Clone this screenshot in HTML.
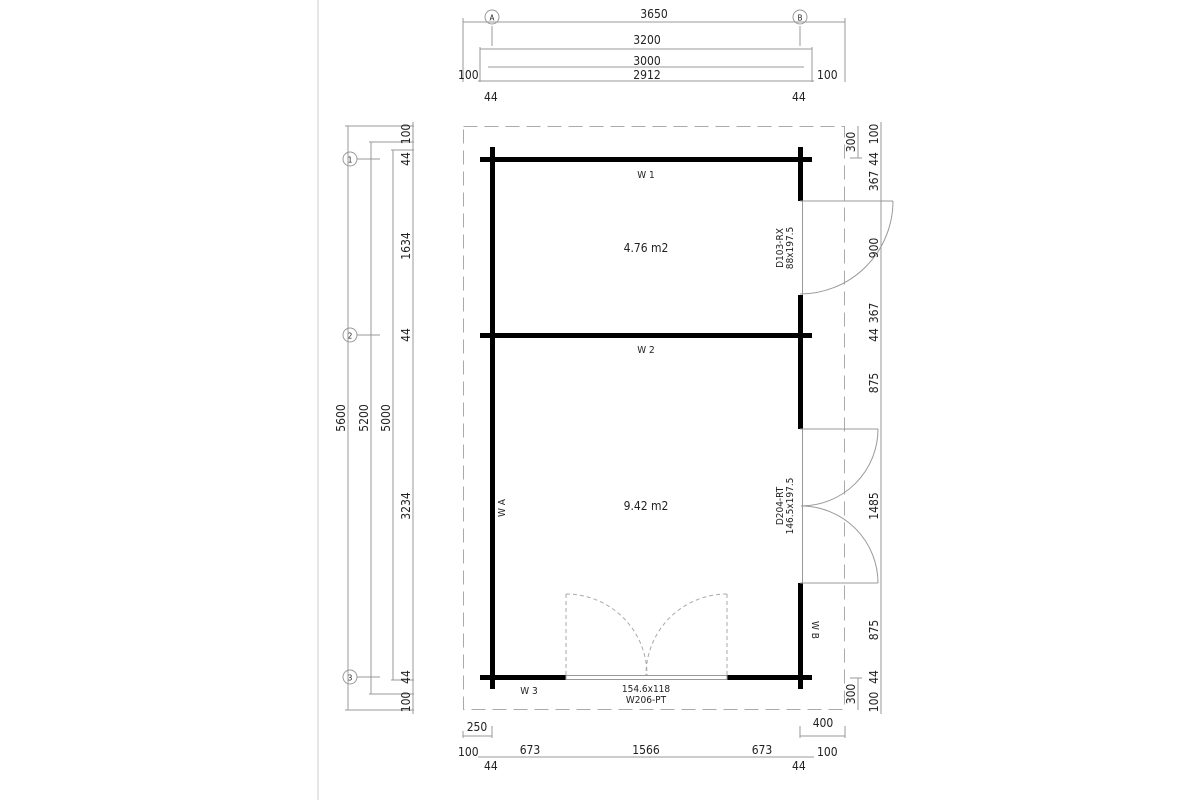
<!DOCTYPE html>
<html><head><meta charset="utf-8"><style>body{margin:0;background:#fff}svg{display:block}text{font-family:"DejaVu Sans Condensed","Liberation Sans",sans-serif;fill:#222}</style></head><body>
<svg width="1200" height="800" viewBox="0 0 1200 800" xmlns="http://www.w3.org/2000/svg">
<line x1="318" y1="0" x2="318" y2="800" stroke="#ccc" stroke-width="1"/>
<!-- dashed outline -->
<rect x="463.5" y="126.5" width="381" height="583" fill="none" stroke="#aaa" stroke-dasharray="14,7"/>
<!-- walls -->
<g fill="#000">
<rect x="480" y="157" width="332" height="5"/>
<rect x="480" y="333" width="332" height="5"/>
<rect x="490" y="147" width="5" height="542"/>
<rect x="798" y="147" width="5" height="54"/>
<rect x="798" y="295" width="5" height="134"/>
<rect x="798" y="583" width="5" height="106"/>
<rect x="480" y="675" width="86" height="5"/>
<rect x="727" y="675" width="85" height="5"/>
</g>
<g fill="none" stroke="#999" stroke-width="1">
<!-- window bottom -->
<rect x="566" y="675.5" width="161" height="4"/>
<line x1="802.5" y1="201" x2="802.5" y2="295"/>
<line x1="802.5" y1="429" x2="802.5" y2="583"/>
<!-- door1 -->
<line x1="800" y1="201" x2="893" y2="201"/>
<path d="M893 201 A93 93 0 0 1 800 294"/>
<!-- door2 -->
<line x1="800" y1="429" x2="878" y2="429"/>
<line x1="800" y1="583" x2="878" y2="583"/>
<path d="M878 429 A77 77 0 0 1 801 506"/>
<path d="M878 583 A77 77 0 0 0 801 506"/>
</g>
<g fill="none" stroke="#aaa" stroke-dasharray="4,3">
<line x1="566" y1="594" x2="566" y2="675"/>
<line x1="727" y1="594" x2="727" y2="675"/>
<path d="M566 594 A81 81 0 0 1 647 675"/>
<path d="M727 594 A81 81 0 0 0 646 675"/>
</g>
<!-- dims -->
<g stroke="#999" stroke-width="1" fill="none">
<line x1="463" y1="22" x2="845" y2="22"/><line x1="463" y1="18" x2="463" y2="82"/><line x1="845" y1="18" x2="845" y2="82"/>
<line x1="492" y1="26" x2="492" y2="46"/><line x1="800" y1="26" x2="800" y2="46"/>
<line x1="480" y1="49" x2="812" y2="49"/><line x1="480" y1="47" x2="480" y2="82"/><line x1="812" y1="47" x2="812" y2="82"/>
<line x1="488" y1="67" x2="804" y2="67"/>
<line x1="478" y1="81" x2="814" y2="81"/>
<circle cx="492" cy="17" r="7"/><circle cx="800" cy="17" r="7"/>
<line x1="348" y1="126" x2="348" y2="710"/><line x1="345" y1="126" x2="414" y2="126"/><line x1="345" y1="710" x2="414" y2="710"/>
<line x1="371" y1="142" x2="371" y2="694"/><line x1="369" y1="142" x2="414" y2="142"/><line x1="369" y1="694" x2="414" y2="694"/>
<line x1="393" y1="150" x2="393" y2="680"/><line x1="391" y1="150" x2="414" y2="150"/><line x1="391" y1="680" x2="414" y2="680"/>
<line x1="413" y1="122" x2="413" y2="714"/>
<line x1="357" y1="159" x2="380" y2="159"/><line x1="357" y1="335" x2="380" y2="335"/><line x1="357" y1="677" x2="380" y2="677"/>
<circle cx="350" cy="159" r="7"/><circle cx="350" cy="335" r="7"/><circle cx="350" cy="677" r="7"/>
<line x1="858" y1="126" x2="858" y2="158"/><line x1="850" y1="158" x2="862" y2="158"/>
<line x1="858" y1="678" x2="858" y2="710"/><line x1="850" y1="678" x2="862" y2="678"/>
<line x1="881" y1="122" x2="881" y2="714"/>
<line x1="463" y1="731" x2="463" y2="738"/><line x1="463" y1="736" x2="492" y2="736"/><line x1="492" y1="726" x2="492" y2="738"/>
<line x1="800" y1="726" x2="800" y2="738"/><line x1="800" y1="736" x2="845" y2="736"/><line x1="845" y1="726" x2="845" y2="738"/>
<line x1="478" y1="757" x2="814" y2="757"/>
</g>
<g font-size="11">
<text x="654" y="18" text-anchor="middle" font-size="12">3650</text>
<text x="647" y="44" text-anchor="middle" font-size="12">3200</text>
<text x="647" y="65" text-anchor="middle" font-size="12">3000</text>
<text x="647" y="79" text-anchor="middle" font-size="12">2912</text>
<text x="458" y="79" font-size="12">100</text><text x="817" y="79" font-size="12">100</text>
<text x="484" y="101" font-size="12">44</text><text x="792" y="101" font-size="12">44</text>
<text x="492" y="20.5" text-anchor="middle" font-size="8">A</text><text x="800" y="20.5" text-anchor="middle" font-size="8">B</text>
<text x="350" y="162.5" text-anchor="middle" font-size="8">1</text><text x="350" y="338.5" text-anchor="middle" font-size="8">2</text><text x="350" y="680.5" text-anchor="middle" font-size="8">3</text>
<text x="646" y="252" text-anchor="middle" font-size="12">4.76 m2</text>
<text x="646" y="510" text-anchor="middle" font-size="12">9.42 m2</text>
<text x="646" y="178" text-anchor="middle" font-size="10">W 1</text>
<text x="646" y="353" text-anchor="middle" font-size="10">W 2</text>
<text x="529" y="694" text-anchor="middle" font-size="10">W 3</text>
<text x="646" y="692" text-anchor="middle" font-size="10">154.6x118</text>
<text x="646" y="703" text-anchor="middle" font-size="10">W206-PT</text>
<text x="477" y="731" text-anchor="middle" font-size="12">250</text>
<text x="823" y="727" text-anchor="middle" font-size="12">400</text>
<text x="458" y="756" font-size="12">100</text><text x="817" y="756" font-size="12">100</text>
<text x="530" y="754" text-anchor="middle" font-size="12">673</text>
<text x="646" y="754" text-anchor="middle" font-size="12">1566</text>
<text x="762" y="754" text-anchor="middle" font-size="12">673</text>
<text x="484" y="770" font-size="12">44</text><text x="792" y="770" font-size="12">44</text>
</g>
<g font-size="12">
<text transform="translate(345,418) rotate(-90)" text-anchor="middle">5600</text>
<text transform="translate(368,418) rotate(-90)" text-anchor="middle">5200</text>
<text transform="translate(390,418) rotate(-90)" text-anchor="middle">5000</text>
<text transform="translate(410,246) rotate(-90)" text-anchor="middle">1634</text>
<text transform="translate(410,506) rotate(-90)" text-anchor="middle">3234</text>
<text transform="translate(410,134) rotate(-90)" text-anchor="middle">100</text>
<text transform="translate(410,159) rotate(-90)" text-anchor="middle">44</text>
<text transform="translate(410,335) rotate(-90)" text-anchor="middle">44</text>
<text transform="translate(410,677) rotate(-90)" text-anchor="middle">44</text>
<text transform="translate(410,702) rotate(-90)" text-anchor="middle">100</text>
<text transform="translate(855,142) rotate(-90)" text-anchor="middle">300</text>
<text transform="translate(855,694) rotate(-90)" text-anchor="middle">300</text>
<text transform="translate(878,134) rotate(-90)" text-anchor="middle">100</text>
<text transform="translate(878,159) rotate(-90)" text-anchor="middle">44</text>
<text transform="translate(878,181) rotate(-90)" text-anchor="middle">367</text>
<text transform="translate(878,248) rotate(-90)" text-anchor="middle">900</text>
<text transform="translate(878,313) rotate(-90)" text-anchor="middle">367</text>
<text transform="translate(878,335) rotate(-90)" text-anchor="middle">44</text>
<text transform="translate(878,383) rotate(-90)" text-anchor="middle">875</text>
<text transform="translate(878,506) rotate(-90)" text-anchor="middle">1485</text>
<text transform="translate(878,630) rotate(-90)" text-anchor="middle">875</text>
<text transform="translate(878,677) rotate(-90)" text-anchor="middle">44</text>
<text transform="translate(878,702) rotate(-90)" text-anchor="middle">100</text>
</g>
<g font-size="10">
<text transform="translate(783,248) rotate(-90)" text-anchor="middle">D103-RX</text>
<text transform="translate(793,248) rotate(-90)" text-anchor="middle">88x197.5</text>
<text transform="translate(783,506) rotate(-90)" text-anchor="middle">D204-RT</text>
<text transform="translate(793,506) rotate(-90)" text-anchor="middle">146.5x197.5</text>
<text transform="translate(505,508) rotate(-90)" text-anchor="middle">W A</text>
<text transform="translate(812,630) rotate(90)" text-anchor="middle">W B</text>
</g>
</svg>
</body></html>
